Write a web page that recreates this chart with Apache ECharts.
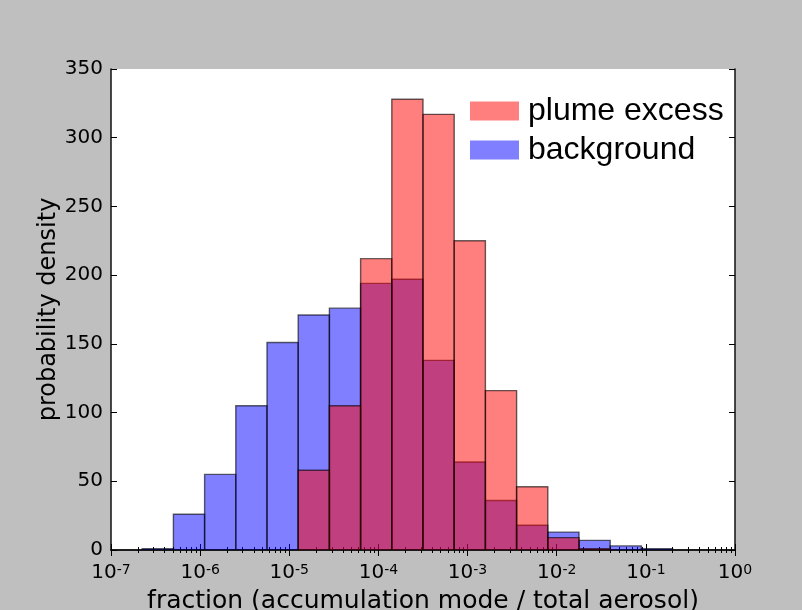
<!DOCTYPE html>
<html><head><meta charset="utf-8">
<script src="https://cdn.jsdelivr.net/npm/echarts@6/dist/echarts.min.js"></script>
<style>html,body{margin:0;padding:0;background:#bfbfbf}#c{width:802px;height:610px}</style>
</head><body><div id="c"></div>
<script>
// log10 of the histogram bin edges
const binEdgesLog10 = [-6.65,-6.30,-5.95,-5.60,-5.25,-4.90,-4.55,-4.20,-3.85,-3.50,-3.15,-2.80,-2.45,-2.10,-1.75,-1.40,-1.05,-0.70];
const background   = [1,26,55,105,151,171,176,194,197,138,64,36,18,13,7,3,1];
const plumeExcess  = [0,0,0,0,0,58,105,212,328,317,225,116,46,9,1,0,0];
const seriesNames  = ['plume excess','background'];
const xLabel = 'fraction (accumulation mode / total aerosol)';
const yLabel = 'probability density';

function toBins(vals){
  return vals.map((v,i)=>[Math.pow(10,binEdgesLog10[i]), Math.pow(10,binEdgesLog10[i+1]), v]);
}
function makeRender(fill){
  return function(params, api){
    const lo = api.value(0), hi = api.value(1), v = api.value(2);
    if(!v) return null;
    const p0 = api.coord([lo, 0]);
    const p1 = api.coord([hi, v]);
    return {type:'rect', shape:{x:p0[0], y:p1[1], width:p1[0]-p0[0], height:p0[1]-p1[1]},
      style:{fill:fill, stroke:'rgba(0,0,0,0.6)', lineWidth:1.4}};
  };
}
const FONT = 'DejaVu Sans';
const chart = echarts.init(document.getElementById('c'), null, {renderer:'canvas'});
const tickCommon = {inside:true, length:6, lineStyle:{color:'#000', width:1}};
const minorCommon = {show:true, splitNumber:9, length:3, lineStyle:{color:'#000', width:1}};
const axisLineCommon = {show:true, lineStyle:{color:'#111', width:1.5}};
chart.setOption({
  backgroundColor:'#bfbfbf',
  animation:false,
  grid:{left:111, right:67, top:69, bottom:60, show:true, backgroundColor:'#fff', borderWidth:0,
        containLabel:false, outerBoundsMode:'none'},
  legend:{
    data:seriesNames, orient:'vertical', left:470, top:95, padding:0, itemGap:7,
    icon:'rect', itemWidth:49, itemHeight:19,
    textStyle:{fontFamily:'Liberation Sans', fontSize:32, color:'#000', lineHeight:32, padding:[0,0,0,4]}
  },
  xAxis:[{
    type:'log', logBase:10, min:1e-7, max:1, interval:1, position:'bottom',
    name:xLabel, nameLocation:'middle', nameGap:39, nameMoveOverlap:false,
    nameTextStyle:{fontFamily:FONT, fontSize:25, color:'#000'},
    axisLine:axisLineCommon, axisTick:tickCommon, minorTick:minorCommon,
    splitLine:{show:false}, minorSplitLine:{show:false},
    axisLabel:{margin:13, color:'#000', fontFamily:FONT,
      formatter:function(v){ const e=Math.round(Math.log10(v)); return '{b|10}{s|'+e+'}'; },
      rich:{b:{fontFamily:FONT, fontSize:20, lineHeight:20, verticalAlign:'bottom', color:'#000'},
            s:{fontFamily:FONT, fontSize:14, lineHeight:14, verticalAlign:'top', padding:[0,0,9,0], color:'#000'}}}
  },{
    type:'log', logBase:10, min:1e-7, max:1, interval:1, position:'top',
    axisLine:axisLineCommon, axisTick:tickCommon, minorTick:minorCommon,
    splitLine:{show:false}, axisLabel:{show:false}
  }],
  yAxis:[{
    type:'value', min:0, max:350, interval:50, position:'left',
    name:yLabel, nameLocation:'middle', nameGap:50, nameMoveOverlap:false,
    nameTextStyle:{fontFamily:FONT, fontSize:24, color:'#000'},
    axisLine:axisLineCommon, axisTick:tickCommon, splitLine:{show:false},
    axisLabel:{margin:8, color:'#000', fontFamily:FONT, fontSize:20}
  },{
    type:'value', min:0, max:350, interval:50, position:'right',
    axisLine:axisLineCommon, axisTick:tickCommon, splitLine:{show:false}, axisLabel:{show:false}
  }],
  series:[{
    name:'background', type:'custom', xAxisIndex:0, yAxisIndex:0,
    renderItem:makeRender('rgba(0,0,255,0.5)'), itemStyle:{color:'rgba(0,0,255,0.5)'},
    encode:{x:[0,1], y:2}, data:toBins(background), clip:true
  },{
    name:'plume excess', type:'custom', xAxisIndex:0, yAxisIndex:0,
    renderItem:makeRender('rgba(255,0,0,0.5)'), itemStyle:{color:'rgba(255,0,0,0.5)'},
    encode:{x:[0,1], y:2}, data:toBins(plumeExcess), clip:true
  }]
});
</script></body></html>
